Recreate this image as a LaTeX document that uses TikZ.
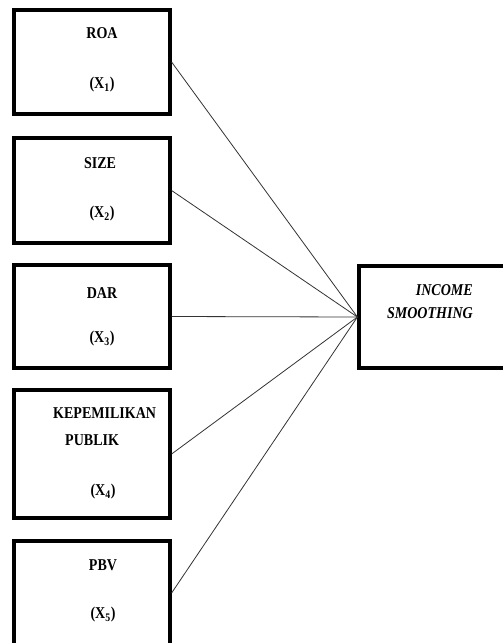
\documentclass[tikz,border=0pt]{standalone}
\usepackage{fontspec}
\setmainfont{Liberation Serif}[FakeStretch=0.85]

\begin{document}
\begin{tikzpicture}[x=1pt, y=-1pt,
	box/.style = {draw, line width=3.2pt, minimum width=156pt, inner sep=0pt},
	lbl/.style = {font=\fontsize{16.5}{18}\selectfont\bfseries, inner sep=0pt, anchor=base},
	link/.style = {draw=black!80, line width=0.8pt}]
	\useasboundingbox (0, 0) rectangle (503, 643);

	\node[box, minimum height=104pt] (roa) at (92, 62) {};
	\node[box, minimum height=105pt] (size) at (92, 190.5) {};
	\node[box, minimum height=103pt] (dar) at (92, 316.5) {};
	\node[box, minimum height=128pt] (kp) at (92, 454) {};
	\node[box, minimum height=104pt] (pbv) at (92, 593) {};
	\node[box, minimum width=150pt, minimum height=102pt] (inc) at (434, 317) {};

	\node[lbl] (roa-t) at (102, 38.5) {ROA};
	\node[lbl] (roa-x) at (102, 88.5) {(X\textsubscript{1})};
	\node[lbl] (size-t) at (100, 168.5) {SIZE};
	\node[lbl] (size-x) at (102, 217.5) {(X\textsubscript{2})};
	\node[lbl] (dar-t) at (102, 298.5) {DAR};
	\node[lbl] (dar-x) at (102, 342.5) {(X\textsubscript{3})};
	\node[lbl, anchor=base west] (kp-t) at (53, 418.5) {KEPEMILIKAN};
	\node[lbl, anchor=base west] (kp-u) at (65, 445.5) {PUBLIK};
	\node[lbl] (kp-x) at (103, 495.5) {(X\textsubscript{4})};
	\node[lbl] (pbv-t) at (103, 570.5) {PBV};
	\node[lbl] (pbv-x) at (103, 618.5) {(X\textsubscript{5})};
	\node[lbl, anchor=base east, font=\fontsize{16.5}{18}\selectfont\bfseries\itshape] (inc-t) at (473, 295) {INCOME};
	\node[lbl, anchor=base east, font=\fontsize{16.5}{18}\selectfont\bfseries\itshape] (inc-u) at (473, 318) {SMOOTHING};

	\foreach \src in {roa, size, dar, kp, pbv}
		\draw[link] (\src.east) -- (inc.west);
\end{tikzpicture}
\end{document}
